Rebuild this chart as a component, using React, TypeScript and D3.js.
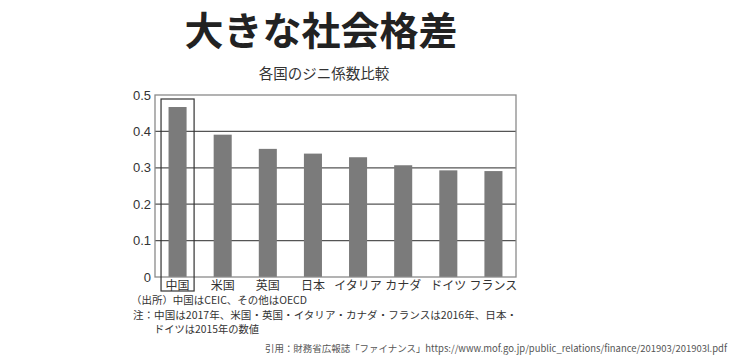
import React from 'react';
import * as d3 from 'd3';

const countries = ['中国', '米国', '英国', '日本', 'イタリア', 'カナダ', 'ドイツ', 'フランス'];
const giniValues = [0.467, 0.391, 0.352, 0.339, 0.329, 0.307, 0.293, 0.291];
const yTicks = [0, 0.1, 0.2, 0.3, 0.4, 0.5];
const yTickLabels = ['0', '0.1', '0.2', '0.3', '0.4', '0.5'];

const mainTitle = '大きな社会格差';
const chartTitle = '各国のジニ係数比較';
const sourceNote = '（出所）中国はCEIC、その他はOECD';
const noteLine1 = '注：中国は2017年、米国・英国・イタリア・カナダ・フランスは2016年、日本・';
const noteLine2 = 'ドイツは2015年の数値';
const citation = '引用：財務省広報誌「ファイナンス」https://www.mof.go.jp/public_relations/finance/201903/201903l.pdf';

const W = 734;
const H = 364;
const plot = { left: 155, right: 516, top: 95, bottom: 277 };

const jp = '"Noto Sans CJK JP", "Noto Sans", sans-serif';
const latin = '"Liberation Sans", Arial, sans-serif';

export default function App() {
  const x = d3.scaleBand<string>()
    .domain(countries)
    .range([plot.left, plot.right])
    .paddingInner(0.6)
    .paddingOuter(0.3);

  const y = d3.scaleLinear().domain([0, 0.5]).range([plot.bottom, plot.top]);

  // china highlight box, a bit wider than the bar and running below the axis
  const chinaX = x('中国') ?? 0;
  const boxPad = 7.5;

  return (
    <div style={{ position: 'absolute', left: 0, top: 0 }}>
      <svg width={W} height={H} style={{ display: 'block', background: '#fff' }}>
        <text x={321} y={45} textAnchor="middle" fontFamily={jp} fontWeight={700}
          fontSize={39} fill="#222">{mainTitle}</text>

        <text x={324} y={79} textAnchor="middle" fontFamily={jp} fontSize={14.5}
          fill="#333">{chartTitle}</text>

        {/* grid */}
        {yTicks.slice(1, -1).map(t => (
          <line key={t} x1={plot.left} x2={plot.right} y1={y(t)} y2={y(t)}
            stroke="#555" strokeWidth={1.3} />
        ))}

        {/* bars */}
        {countries.map((c, i) => (
          <rect key={c} x={x(c)} y={y(giniValues[i])} width={x.bandwidth()}
            height={y(0) - y(giniValues[i])} fill="#7b7b7b" />
        ))}

        {/* plot frame */}
        <rect x={plot.left} y={plot.top} width={plot.right - plot.left}
          height={plot.bottom - plot.top} fill="none" stroke="#8a8a8a" strokeWidth={1.3} />

        <rect x={chinaX - boxPad} y={99} width={x.bandwidth() + boxPad * 2} height={192}
          fill="none" stroke="#333" strokeWidth={1.2} />

        {/* y tick labels */}
        {yTicks.map((t, i) => (
          <text key={t} x={151} y={y(t) + 4.5} textAnchor="end" fontFamily={latin}
            fontSize={13} fill="#333">{yTickLabels[i]}</text>
        ))}

        {/* category labels */}
        {countries.map(c => (
          <text key={c} x={(x(c) ?? 0) + x.bandwidth() / 2} y={290} textAnchor="middle"
            fontFamily={jp} fontSize={12} fill="#333">{c}</text>
        ))}

        <text x={131} y={304} fontFamily={jp} fontSize={10} fill="#333"
          textLength={176} lengthAdjust="spacingAndGlyphs">{sourceNote}</text>
        <text x={133} y={318.5} fontFamily={jp} fontSize={10} fill="#333"
          textLength={384} lengthAdjust="spacingAndGlyphs">{noteLine1}</text>
        <text x={154} y={333} fontFamily={jp} fontSize={10} fill="#333"
          textLength={105} lengthAdjust="spacingAndGlyphs">{noteLine2}</text>

        <text x={265} y={352} fontFamily={jp} fontSize={9.5} fill="#555"
          textLength={462} lengthAdjust="spacingAndGlyphs">{citation}</text>
      </svg>
    </div>
  );
}
